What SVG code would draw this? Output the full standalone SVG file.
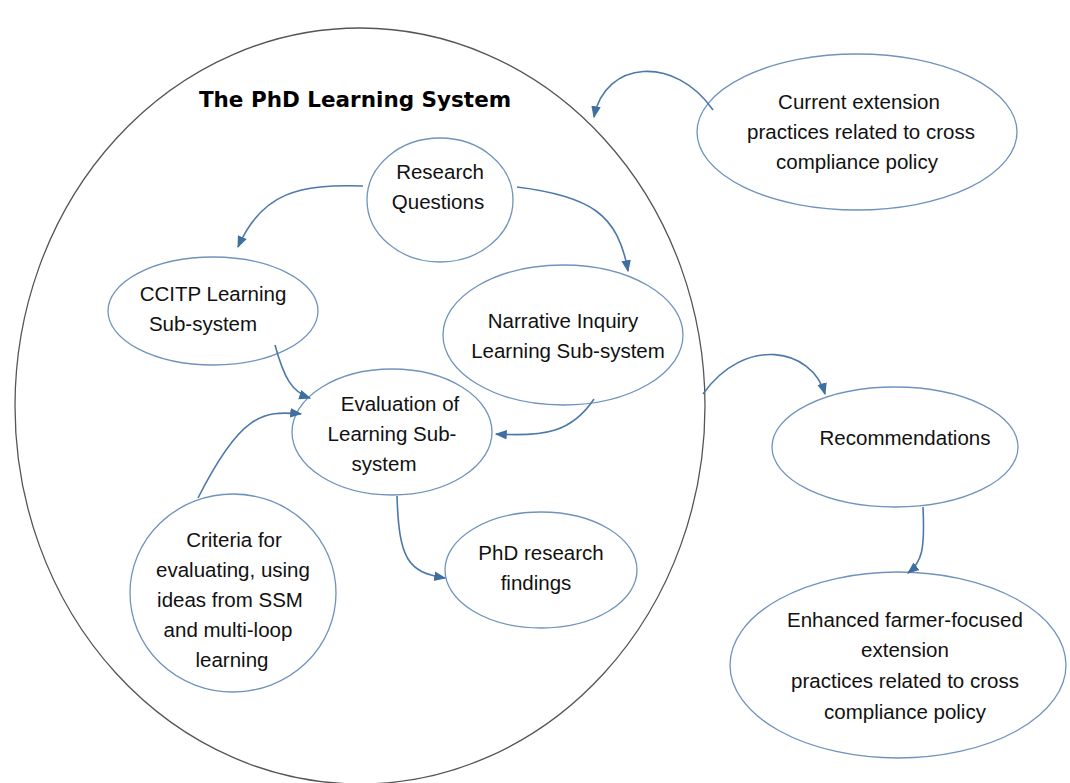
<svg xmlns="http://www.w3.org/2000/svg" width="1070" height="783" viewBox="0 0 1070 783">
<defs>
<style>
.n{fill:#fff;stroke:#6f93bd;stroke-width:1.3}
.t{font-family:"Liberation Sans",Arial,sans-serif;font-size:20.5px;fill:#111;text-anchor:middle}
.c{fill:none;stroke:#4c79a9;stroke-width:1.6}
</style>
<marker id="b" viewBox="0 0 10 10" refX="9" refY="5" markerWidth="12" markerHeight="12" orient="auto" markerUnits="userSpaceOnUse">
<path d="M0,1 L10,5 L0,9 z" fill="#3f6fa0"/>
</marker>
</defs>
<rect width="1070" height="783" fill="#fff"/>
<g id="system">
<ellipse cx="360" cy="406" rx="345" ry="378" fill="none" stroke="#555" stroke-width="1.3"/>
<text x="355" y="107" style="font-family:'DejaVu Sans',Verdana,sans-serif;font-size:21.5px;font-weight:bold;fill:#000" text-anchor="middle">The PhD Learning System</text>
</g>
<g id="rq">
<ellipse class="n" cx="440" cy="200" rx="73" ry="62"/>
<text class="t" x="440" y="179">Research</text>
<text class="t" x="438" y="209">Questions</text>
</g>
<g id="ccitp">
<ellipse class="n" cx="213" cy="311" rx="105" ry="54"/>
<text class="t" x="213" y="301">CCITP Learning</text>
<text class="t" x="203" y="331">Sub-system</text>
</g>
<g id="narrative">
<ellipse class="n" cx="563" cy="335" rx="120" ry="70"/>
<text class="t" x="563" y="328">Narrative Inquiry</text>
<text class="t" x="568" y="358">Learning Sub-system</text>
</g>
<g id="evaluation">
<ellipse class="n" cx="392" cy="432" rx="100" ry="63"/>
<text class="t" x="400" y="411">Evaluation of</text>
<text class="t" x="392" y="441">Learning Sub-</text>
<text class="t" x="384" y="471">system</text>
</g>
<g id="criteria">
<ellipse class="n" cx="233" cy="593" rx="103" ry="99"/>
<text class="t" x="234" y="547">Criteria for</text>
<text class="t" x="233" y="577">evaluating, using</text>
<text class="t" x="230" y="607">ideas from SSM</text>
<text class="t" x="228" y="637">and  multi-loop</text>
<text class="t" x="232" y="667">learning</text>
</g>
<g id="findings">
<ellipse class="n" cx="541" cy="570" rx="96" ry="58"/>
<text class="t" x="541" y="560">PhD research</text>
<text class="t" x="536" y="590">findings</text>
</g>
<g id="current">
<ellipse class="n" cx="857" cy="132" rx="160" ry="78"/>
<text class="t" x="859" y="109">Current extension</text>
<text class="t" x="861" y="139">practices  related to cross</text>
<text class="t" x="857" y="169">compliance policy</text>
</g>
<g id="recommendations">
<ellipse class="n" cx="895" cy="447" rx="123" ry="60"/>
<text class="t" x="905" y="445">Recommendations</text>
</g>
<g id="enhanced">
<ellipse class="n" cx="898" cy="665" rx="168" ry="93"/>
<text class="t" x="905" y="627">Enhanced farmer-focused</text>
<text class="t" x="905" y="657">extension</text>
<text class="t" x="905" y="688">practices related to cross</text>
<text class="t" x="905" y="719">compliance policy</text>
</g>
<g id="connectors">
<path class="c" marker-end="url(#b)" d="M363,186 C300,184 262,192 238,247"/>
<path class="c" marker-end="url(#b)" d="M517,187 C590,196 618,214 628,271"/>
<path class="c" marker-end="url(#b)" d="M275,345 C284,378 292,392 310,398"/>
<path class="c" marker-end="url(#b)" d="M198,498 C240,415 262,410 301,414"/>
<path class="c" marker-end="url(#b)" d="M594,399 C572,432 545,437 496,434"/>
<path class="c" marker-end="url(#b)" d="M397,496 C399,560 408,572 445,578"/>
<path class="c" marker-end="url(#b)" d="M713,110 C675,55 605,60 594,117"/>
<path class="c" marker-end="url(#b)" d="M703,394 C745,335 812,348 825,394"/>
<path class="c" marker-end="url(#b)" d="M923,507 C925,550 922,562 908,573"/>
</g>
</svg>
